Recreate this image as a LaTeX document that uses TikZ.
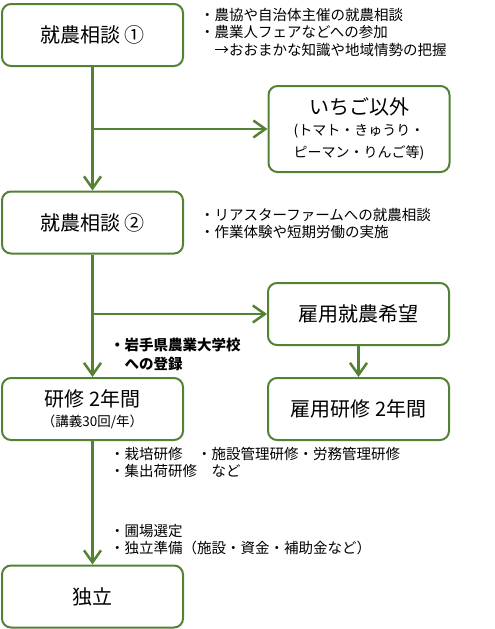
\documentclass[tikz,border=0pt]{standalone}
\usepackage{fontspec}
\setmainfont{Noto Sans CJK JP}
\usetikzlibrary{arrows.meta}
\usetikzlibrary{positioning}
\definecolor{leaf}{RGB}{84,130,53}

\begin{document}
\begin{tikzpicture}[x=1pt,y=-1pt,
    stage/.style={draw=leaf,line width=2pt,rounded corners=9pt,minimum width=181pt,minimum height=62pt,align=center,font=\fontsize{20}{22}\selectfont},
    note/.style={anchor=base west,align=left,inner sep=0pt,font=\fontsize{14.5}{17.5}\selectfont},
    flow/.style={color=leaf,line width=2.5pt,-{Straight Barb[length=12pt,width=17pt]}}]
    \useasboundingbox (0,0) rectangle (495,629);
    \node [stage] (1) at (92.5,35) {就農相談 ①};
    \node [stage,minimum height=86pt] (2) at (359,129) {いちご以外\\[-1pt]
        \fontsize{14}{16}\selectfont (トマト・きゅうり・\\\fontsize{14}{16}\selectfont ピーマン・りんご等)};
    \node [stage] (3) at (92.5,222.5) {就農相談 ②};
    \node [stage] (5) at (92.5,409) {研修 2年間\\[-2pt]\fontsize{13.5}{16}\selectfont （講義30回/年）};
    \node [stage] (6) [right=83pt of 5] {雇用研修 2年間};
    \node [stage] (4) [above=31pt of 6] {雇用就農希望};
    \node [stage] (7) at (92.5,596.5) {独立};
    % notes beside the flow (anchored at the baseline of their last line)
    \node [note] (n1) at (200,55.5) {・農協や自治体主催の就農相談\\・農業人フェアなどへの参加\\　→おおまかな知識や地域情勢の把握};
    \node [note] (n2) at (200,237.5) {・リアスターファームへの就農相談\\・作業体験や短期労働の実施};
    \node [note,font=\fontsize{14.5}{19}\selectfont\bfseries] (n3) at (110,369.5) {・岩手県農業大学校\\　への登録};
    \node [note] (n4) at (110,476.5) {・栽培研修　・施設管理研修・労務管理研修\\・集出荷研修　など};
    \node [note] (n5) at (110,553.5) {・圃場選定\\・独立準備（施設・資金・補助金など）};
    \coordinate (b1) at (1.south |- 2.west);
    \coordinate (b2) at (3.south |- 4.west);
    \path[flow]
        (1) edge (3)
        (b1) edge (2)
        (3) edge (5)
        (b2) edge (4)
        (4) edge (6)
        (5) edge (7);
\end{tikzpicture}
\end{document}
